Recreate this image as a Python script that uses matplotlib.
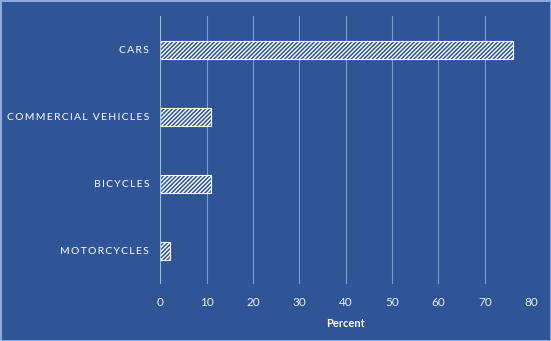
import numpy as np
import matplotlib.pyplot as plt

categories = ["CARS", "COMMERCIAL VEHICLES", "BICYCLES", "MOTORCYCLES"]
percent = [76, 11, 11, 2]
x_ticks = [0, 10, 20, 30, 40, 50, 60, 70, 80]

bg = "#2F5597"
plt.rcParams["font.family"] = ["Lato", "DejaVu Sans"]
plt.rcParams["hatch.color"] = "white"
plt.rcParams["hatch.linewidth"] = 1.0

fig = plt.figure(figsize=(5.51, 3.41), dpi=100, facecolor=bg,
                 edgecolor="#8FAADC", linewidth=1.0)
ax = fig.add_axes([0.291, 0.166, 0.673, 0.787])
ax.set_facecolor(bg)

# spaced-out caps like the original
labels = ["\u2009".join(list(c)) for c in categories]
y = np.arange(len(categories))
ax.barh(y, percent, height=0.27, color=bg, edgecolor="white",
        hatch="////////", linewidth=0.8)

ax.set_ylim(len(categories) - 0.5, -0.5)
ax.set_yticks(y)
ax.set_yticklabels(labels, color="white", fontsize=7.5)
ax.set_xlim(0, 80)
ax.set_xticks(x_ticks)
ax.set_xticklabels([str(t) for t in x_ticks], color="#E8EDF5", fontsize=8.5)
ax.tick_params(length=0, pad=9)
ax.tick_params(axis="y", pad=8)
ax.xaxis.grid(True, color="#7F9CCF", linewidth=0.8)
ax.set_axisbelow(True)
for s in ax.spines.values():
    s.set_visible(False)
ax.axvline(0, color="#9DC3E6", linewidth=1.2)
ax.set_xlabel("Percent", color="white", fontsize=8, fontweight="bold", labelpad=7)

fig.savefig("out.png", dpi=100, facecolor=bg, edgecolor="#8FAADC")
